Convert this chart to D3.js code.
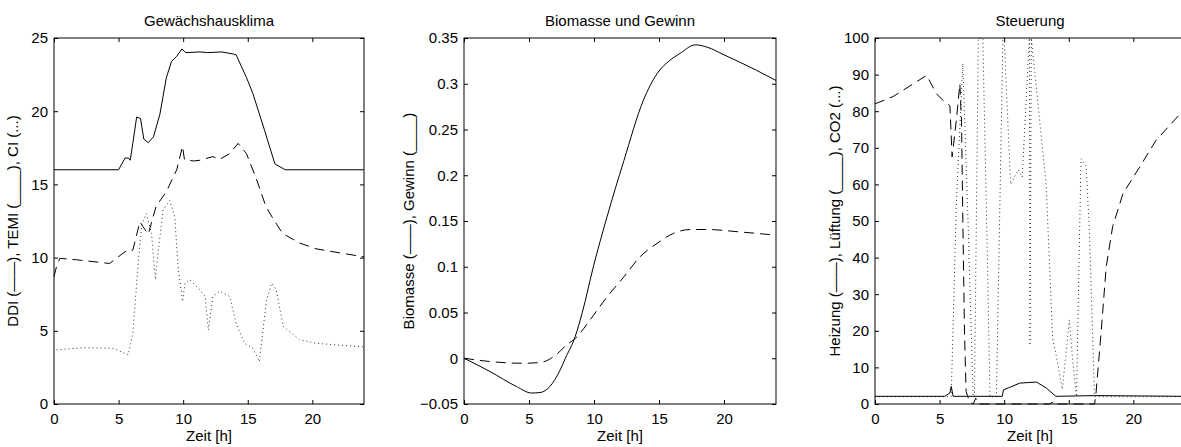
<!DOCTYPE html>
<html>
<head>
<meta charset="utf-8">
<title>Gewächshaus</title>
<script src="https://d3js.org/d3.v7.min.js"></script>
<style>
  body { margin: 0; background: #fff; }
  svg text { font-family: "Liberation Sans", Arial, Helvetica, sans-serif; fill: #000; }
</style>
</head>
<body>
<div id="chart"></div>
<script>
// --- data ---
var xTicks = [0, 5, 10, 15, 20];

// Gewächshausklima
var temiT = [0, 5.0, 5.5, 5.75, 5.9, 6.1, 6.4, 6.7, 6.95, 7.3, 7.7, 8.2, 8.7, 9.1, 9.5, 9.9, 10.2, 11.3, 11.9, 13.0, 13.9, 14.1, 14.9, 15.4, 16.3, 17.1, 17.5, 17.9, 24];
var temiV = [16.0, 16.0, 16.8, 16.8, 16.65, 17.8, 19.6, 19.5, 18.1, 17.85, 18.25, 19.8, 22.3, 23.4, 23.75, 24.25, 24.0, 24.05, 24.0, 24.05, 23.9, 23.85, 22.3, 21.2, 18.7, 16.4, 16.2, 16.0, 16.0];
var ddiT = [0, 0.2, 0.45, 1.75, 4.3, 5.35, 5.75, 6.1, 6.65, 6.9, 7.3, 7.9, 8.7, 9.5, 9.95, 10.1, 10.8, 11.3, 12.3, 12.8, 13.6, 14.25, 14.9, 15.7, 16.4, 17.0, 17.7, 19.0, 20.3, 21.6, 24];
var ddiV = [8.7, 9.4, 9.95, 9.85, 9.6, 10.3, 10.55, 10.5, 12.45, 12.1, 11.6, 13.5, 14.5, 16.0, 17.6, 16.7, 16.6, 16.65, 16.9, 16.7, 17.1, 17.8, 17.1, 15.3, 13.5, 12.6, 11.65, 11.0, 10.6, 10.4, 10.05];
var ciT = [0.2, 2.3, 4.6, 5.75, 6.1, 6.5, 6.8, 7.15, 7.55, 7.85, 8.05, 8.45, 8.95, 9.35, 9.6, 9.95, 10.15, 10.5, 11.3, 11.7, 11.95, 12.3, 12.85, 13.6, 14.1, 14.75, 15.4, 15.9, 16.45, 16.85, 17.2, 17.75, 19.0, 20.3, 21.6, 24];
var ciV = [3.7, 3.85, 3.8, 3.35, 4.8, 9.4, 12.3, 13.0, 11.65, 8.5, 10.3, 13.25, 13.9, 12.8, 9.4, 7.0, 8.25, 8.5, 7.8, 7.35, 5.05, 7.35, 7.7, 7.35, 5.5, 4.15, 3.8, 2.9, 7.1, 8.25, 7.8, 5.3, 4.4, 4.15, 4.05, 3.9];
var yTicks1 = [0, 5, 10, 15, 20, 25];

// Biomasse und Gewinn
var gewinnT = [0, 2.0, 4.05, 5.2, 5.85, 6.6, 7.4, 7.8, 8.55, 9.1, 9.95, 11.0, 12.3, 13.8, 14.85, 15.7, 16.6, 17.8, 18.7, 20.0, 22.5, 24];
var gewinnV = [0, -0.0145, -0.031, -0.038, -0.0375, -0.031, -0.0127, 0, 0.0236, 0.05, 0.1, 0.1545, 0.216, 0.282, 0.311, 0.324, 0.333, 0.3425, 0.34, 0.3316, 0.3147, 0.3036];
var biomasseT = [0, 2, 4.55, 5.85, 6.9, 7.9, 8.7, 9.7, 11.0, 12.3, 13.55, 14.85, 16.1, 17.4, 18.7, 21.25, 24];
var biomasseV = [0, -0.0036, -0.0055, -0.0047, 0.0018, 0.0145, 0.0236, 0.042, 0.067, 0.089, 0.111, 0.1255, 0.1364, 0.1407, 0.1407, 0.138, 0.1345];
var yTicks2 = [-0.05, 0, 0.05, 0.1, 0.15, 0.2, 0.25, 0.3, 0.35];
var yLabels2 = ["\u22120.05", "0", "0.05", "0.1", "0.15", "0.2", "0.25", "0.3", "0.35"];

// Steuerung
var heizungT = [0, 1.4, 4.0, 4.75, 5.25, 5.5, 5.8, 5.97, 6.3, 6.57, 6.7, 6.8, 6.93, 7.05, 7.3, 7.6, 7.8, 8.0, 13.5, 13.9, 14.0, 17.0, 17.1, 17.5, 17.9, 18.4, 19.2, 20.5, 21.75, 23.55, 24];
var heizungV = [82, 84, 89.8, 84.8, 83, 82.5, 81.5, 67.5, 77.6, 87.5, 77, 50, 19.4, 3.5, 0.7, 0, 1.6, 0, 0, 0.7, 0, 0, 2.5, 19.4, 37.5, 48.5, 57.5, 64.8, 72, 79, 80];
var lueftungT = [0, 5.4, 5.8, 5.9, 6.05, 9.85, 9.95, 10.4, 11.2, 12.5, 13.25, 14.0, 17.1, 24];
var lueftungV = [2.1, 2.1, 3, 4.8, 2.1, 2.1, 3.9, 4.5, 5.7, 6.0, 4.4, 2.1, 2.3, 2.1];
var co2T = [0, 5.8, 5.9, 6.3, 6.8, 7.2, 7.6, 7.7, 8.0, 8.35, 8.7, 8.9, 9.4, 9.9, 10.0, 10.5, 11.1, 11.4, 11.95, 12.0, 12.1, 13.25, 13.75, 14.1, 14.5, 15.05, 15.3, 15.6, 15.95, 16.35, 16.6, 17.0, 24];
var co2V = [2, 2, 2, 55, 93, 50, 2, 2, 100, 100, 40, 2, 2, 100, 100, 60, 64, 62, 100, 16, 100, 60, 18, 12, 4, 23, 12, 2, 67, 65, 47, 2, 2];
var yTicks3 = [0, 10, 20, 30, 40, 50, 60, 70, 80, 90, 100];

// --- layout ---
var width = 1181, height = 447;
var plotTop = 38, plotBottom = 404;
var fontSize = 15;

var svg = d3.select("#chart").append("svg")
    .attr("width", width)
    .attr("height", height);

function zip(t, v) {
    return t.map(function(d, i) { return [d, v[i]]; });
}

var panels = [
    { left: 54, right: 364, labelX: 18, title: "Gewächshausklima",
      ylabel: "DDI (\u2014\u2014), TEMI (____), CI (...)",
      yDomain: [0, 25], yTicks: yTicks1, yLabels: null, curve: d3.curveLinear,
      series: [
        { data: zip(temiT, temiV), style: "solid" },
        { data: zip(ddiT, ddiV), style: "dashed" },
        { data: zip(ciT, ciV), style: "dotted" }
      ] },
    { left: 464, right: 776, labelX: 414, title: "Biomasse und Gewinn",
      ylabel: "Biomasse (\u2014\u2014), Gewinn (____)",
      yDomain: [-0.05, 0.35], yTicks: yTicks2, yLabels: yLabels2, curve: d3.curveMonotoneX,
      series: [
        { data: zip(gewinnT, gewinnV), style: "solid" },
        { data: zip(biomasseT, biomasseV), style: "dashed" }
      ] },
    { left: 875, right: 1185, labelX: 840, title: "Steuerung",
      ylabel: "Heizung (\u2014\u2014), Lüftung (____), CO2 (...)",
      yDomain: [0, 100], yTicks: yTicks3, yLabels: null, curve: d3.curveLinear,
      series: [
        { data: zip(co2T, co2V), style: "dotted" },
        { data: zip(lueftungT, lueftungV), style: "solid" },
        { data: zip(heizungT, heizungV), style: "dashed" }
      ] }
];

panels.forEach(function(p) {
    var x = d3.scaleLinear().domain([0, 24]).range([p.left, p.right]);
    var y = d3.scaleLinear().domain(p.yDomain).range([plotBottom, plotTop]);
    var g = svg.append("g");

    // lines
    var line = d3.line()
        .x(function(d) { return x(d[0]); })
        .y(function(d) { return y(d[1]); })
        .curve(p.curve);

    p.series.forEach(function(s) {
        var path = g.append("path")
            .datum(s.data)
            .attr("d", line)
            .attr("fill", "none")
            .attr("stroke", "#000")
            .attr("stroke-width", 1);
        if (s.style == "dashed") path.attr("stroke-dasharray", "10,6");
        if (s.style == "dotted") path.attr("stroke", "#333").attr("stroke-dasharray", "1,3");
    });

    // axes, ticks pointing inward on all four sides
    var fmt = function(d, i) { return p.yLabels ? p.yLabels[i] : d; };
    var ax = g.append("g").attr("transform", "translate(0," + plotBottom + ")")
        .call(d3.axisBottom(x).tickValues(xTicks).tickSizeInner(-4).tickSizeOuter(0).tickPadding(9));
    var ay = g.append("g").attr("transform", "translate(" + p.left + ",0)")
        .call(d3.axisLeft(y).tickValues(p.yTicks).tickFormat(fmt).tickSizeInner(-4).tickSizeOuter(0).tickPadding(6));
    var at = g.append("g").attr("transform", "translate(0," + plotTop + ")")
        .call(d3.axisTop(x).tickValues(xTicks).tickSizeInner(-4).tickSizeOuter(0));
    var ar = g.append("g").attr("transform", "translate(" + p.right + ",0)")
        .call(d3.axisRight(y).tickValues(p.yTicks).tickSizeInner(-4).tickSizeOuter(0));
    at.selectAll("text").remove();
    ar.selectAll("text").remove();
    [ax, ay, at, ar].forEach(function(a) {
        a.select(".domain").remove();
        a.attr("font-size", fontSize).attr("font-family", null);
        a.selectAll("line").attr("stroke", "#000");
    });

    // box
    g.append("rect")
        .attr("x", p.left).attr("y", plotTop)
        .attr("width", p.right - p.left).attr("height", plotBottom - plotTop)
        .attr("fill", "none").attr("stroke", "#000").attr("stroke-width", 1);

    var cx = (p.left + p.right) / 2;
    g.append("text")
        .attr("x", cx).attr("y", 26)
        .attr("text-anchor", "middle")
        .style("font-size", fontSize + "px")
        .text(p.title);
    g.append("text")
        .attr("x", cx).attr("y", 441)
        .attr("text-anchor", "middle")
        .style("font-size", fontSize + "px")
        .text("Zeit [h]");
    g.append("text")
        .attr("transform", "translate(" + p.labelX + "," + ((plotTop + plotBottom) / 2) + ") rotate(-90)")
        .attr("text-anchor", "middle")
        .style("font-size", fontSize + "px")
        .text(p.ylabel);
});
</script>
</body>
</html>
